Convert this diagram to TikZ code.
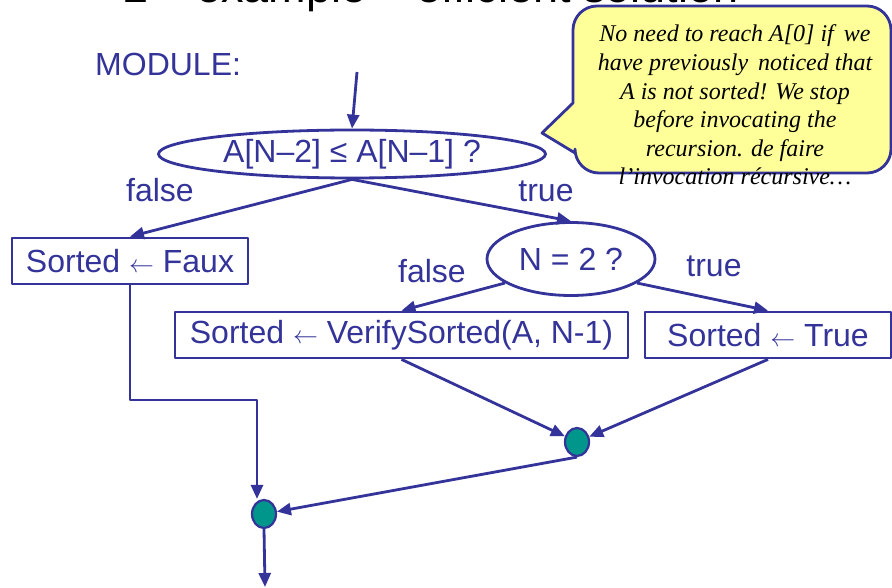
\documentclass[tikz,border=0pt]{standalone}
\usepackage{fontspec}
\setmainfont{Liberation Sans}
\newfontfamily\notefont{Liberation Serif}
\usetikzlibrary{shapes.geometric,arrows.meta}
\definecolor{flowblue}{RGB}{51,51,153}
\definecolor{noteyellow}{RGB}{255,255,153}
\definecolor{jointeal}{RGB}{0,150,140}

\begin{document}
\begin{tikzpicture}[x=1pt, y=-1pt, line join=round,
  flow/.style={draw=flowblue, line width=2.8pt, -{Triangle[length=14pt,width=12pt]}},
  txt/.style={text=flowblue, font=\fontsize{32}{36}\selectfont, inner sep=0pt},
  notetxt/.style={anchor=base, inner sep=0pt, font=\notefont\itshape\fontsize{24}{28}\selectfont},
  test/.style={ellipse, draw=flowblue, line width=2.8pt, txt},
  act/.style={rectangle, draw=flowblue, line width=2.8pt, txt, minimum height=46pt},
  joint/.style={ellipse, draw=flowblue, line width=2.2pt, fill=jointeal,
    minimum width=24pt, minimum height=28pt, inner sep=0pt}]
  \useasboundingbox (0,0) rectangle (892,588);

  % ---------------- title (cut by the page) ----------------
  \node[anchor=base west, inner sep=0pt, font=\fontsize{45}{45}\selectfont] (title) at (123,3)
    {2\textsuperscript{nd} example – efficient solution};
  \node[txt, anchor=base west] (module) at (95,76) {MODULE:};

  % ---------------- note ----------------
  \draw[draw=flowblue, fill=noteyellow, line width=2.8pt]
    (573,103) [rounded corners=24pt] -- (573,6) -- (891,6) -- (891,173)
    -- (575,173) [sharp corners] -- (575,153) -- (542,133) -- cycle;
  \foreach \line [count=\k] in {{No need to reach A[0] if\, we},
      {have previously\, noticed that}, {A is not sorted! We stop},
      {before invocating the}, {recursion. de faire}, {l’invocation récursive…}}
    \node[notetxt] (note\k) at (735,{42+28.6*(\k-1)}) {\line};

  % ---------------- tests and actions ----------------
  \node[test, minimum width=387pt, minimum height=48pt] (cmp) at (352,154)
    {A[N–2] ≤ A[N–1] ?};
  \node[test, minimum width=168pt, minimum height=73pt] (two) at (571,259)
    {N = 2 ?};
  \node[act, minimum width=236pt] (faux) at (130,261) {Sorted $\leftarrow$ Faux};
  \node[act, minimum width=453pt] (verify) at (401.5,335)
    {Sorted $\leftarrow$ VerifySorted(A, N-1)};
  \node[act, minimum width=246pt] (true) at (768,335) {Sorted $\leftarrow$ True};
  \node[joint] (j1) at (577,442) {};
  \node[joint] (j2) at (264,514) {};
  \coordinate (bend) at (257,400);
  \coordinate (out) at (265,587);

  % ---------------- labels ----------------
  \node[txt] (falseA) at (160,190) {false};
  \node[txt] (trueA) at (546,191) {true};
  \node[txt] (falseB) at (432,271) {false};
  \node[txt] (trueB) at (714,266) {true};

  % ---------------- connectors ----------------
  \draw[flow] (357,72) -- (cmp.north);
  \draw[flow] (cmp.south) -- (faux.north);
  \draw[flow] (cmp.south) -- (two.north);
  \draw[flow] (two.200) -- (verify.north);
  \draw[flow] (two.-20) -- (true.north);
  \draw[flow] (verify.south) -- (j1);
  \draw[flow] (true.south) -- (j1);
  \draw[flow] (j1.south) -- (j2);
  \draw[flow] (faux.south) |- (bend) -- (bend |- j2.north);
  \draw[flow] (j2.south) -- (out);
\end{tikzpicture}
\end{document}
